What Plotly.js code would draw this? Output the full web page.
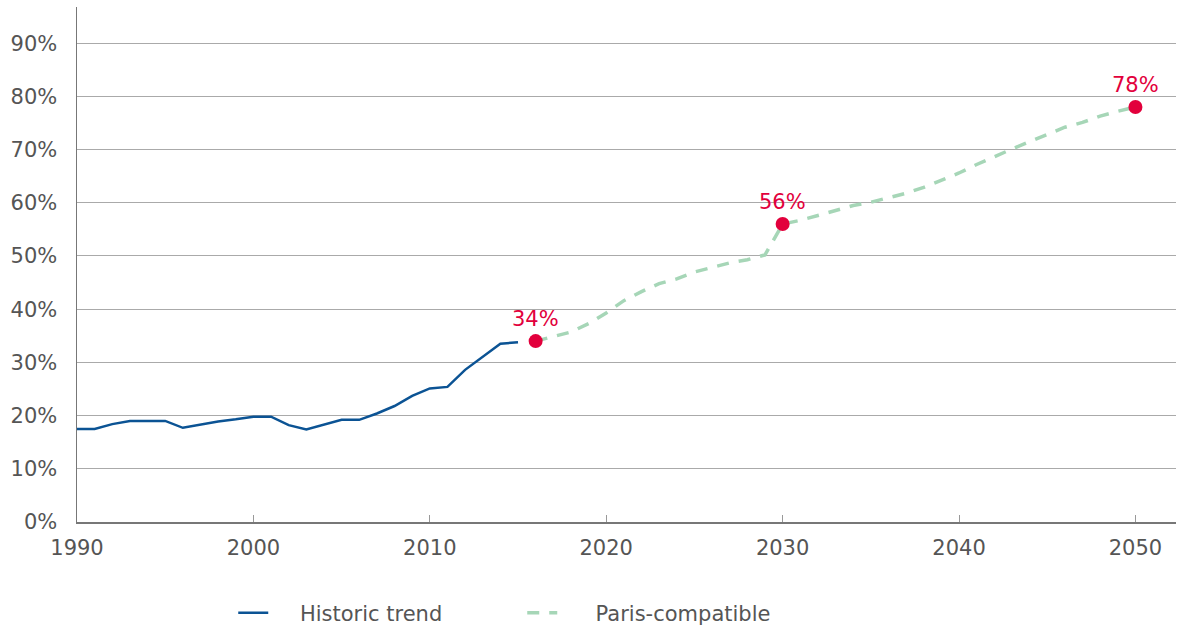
<!DOCTYPE html>
<html>
<head>
<meta charset="utf-8">
<script src="https://cdn.plot.ly/plotly-3.0.1.min.js"></script>
<style>html,body{margin:0;padding:0;background:#fff;}#chart{width:1178px;height:630px;}</style>
</head>
<body>
<div id="chart"></div>
<script>
const histYears = [1990,1991,1992,1993,1994,1995,1996,1997,1998,1999,2000,2001,2002,2003,2004,2005,2006,2007,2008,2009,2010,2011,2012,2013,2014,2015];
const histValues = [17.5,17.5,18.4,19.0,19.0,19.0,17.7,18.3,18.9,19.3,19.8,19.8,18.2,17.4,18.3,19.2,19.2,20.4,21.8,23.7,25.1,25.4,28.6,31.1,33.5,33.8];

const parisYears = [2016,2017,2018,2019,2020,2021,2022,2023,2024,2025,2026,2027,2028,2029,2030,2031,2032,2033,2034,2035,2036,2037,2038,2039,2040,2041,2042,2043,2044,2045,2046,2047,2048,2049,2050];
const parisValues = [34.0,34.9,35.7,37.3,39.3,41.6,43.3,44.8,45.7,47.0,47.9,48.7,49.3,50.2,56.0,56.7,57.6,58.6,59.5,60.1,60.9,61.8,62.9,64.2,65.6,67.2,68.7,70.1,71.5,72.9,74.2,75.1,76.3,77.2,78.0];

const markerYears = [2016,2030,2050];
const markerValues = [34,56,78];
const markerLabels = ['34%','56%','78%'];

const yTicks = [0,10,20,30,40,50,60,70,80,90];
const yTickText = ['0%','10%','20%','30%','40%','50%','60%','70%','80%','90%'];
const xTicks = [1990,2000,2010,2020,2030,2040,2050];

const FONT = 'DejaVu Sans, sans-serif';
const RED = '#e2003c';

const traces = [
  {x: histYears, y: histValues, type: 'scatter', mode: 'lines', name: '\u00a0\u00a0\u00a0\u00a0Historic trend',
   line: {color: '#0b5394', width: 2.5}},
  {x: parisYears, y: parisValues, type: 'scatter', mode: 'lines', name: '\u00a0\u00a0\u00a0\u00a0\u00a0Paris-compatible',
   line: {color: '#a6d6b7', width: 3.5, dash: '12px,10px'}},
  {x: markerYears, y: markerValues, type: 'scatter', mode: 'markers', showlegend: false,
   marker: {color: RED, size: 14}}
];

const annotations = markerYears.map((yr, i) => ({
  x: yr, y: markerValues[i], text: markerLabels[i], showarrow: false,
  yshift: 22, font: {family: FONT, size: 21, color: RED}
}));

const layout = {
  width: 1178, height: 630,
  margin: {l: 77, r: 2, t: 7, b: 108},
  paper_bgcolor: '#fff', plot_bgcolor: '#fff',
  font: {family: FONT, size: 21, color: '#555'},
  showlegend: true,
  legend: {orientation: 'h', xref: 'container', yref: 'container', x: 0.198, xanchor: 'left',
           y: 0.027, yanchor: 'middle',
           font: {family: FONT, size: 21, color: '#555'}, entrywidth: 244, entrywidthmode: 'pixels'},
  xaxis: {range: [1990, 2052.3], tickvals: xTicks, ticks: 'inside', ticklen: 7, tickcolor: '#999',
          showline: true, linecolor: '#777', linewidth: 1.5, showgrid: false, zeroline: false,
          ticklabelstandoff: 6, fixedrange: true, automargin: false},
  yaxis: {range: [0, 96.8], tickvals: yTicks, ticktext: yTickText, showline: true, linecolor: '#777',
          linewidth: 1.5, showgrid: true, gridcolor: '#aaa', gridwidth: 1, zeroline: false,
          ticks: '', ticklabelstandoff: 14, fixedrange: true, automargin: false},
  annotations: annotations
};

Plotly.newPlot('chart', traces, layout, {displayModeBar: false, staticPlot: true});
</script>
</body>
</html>
